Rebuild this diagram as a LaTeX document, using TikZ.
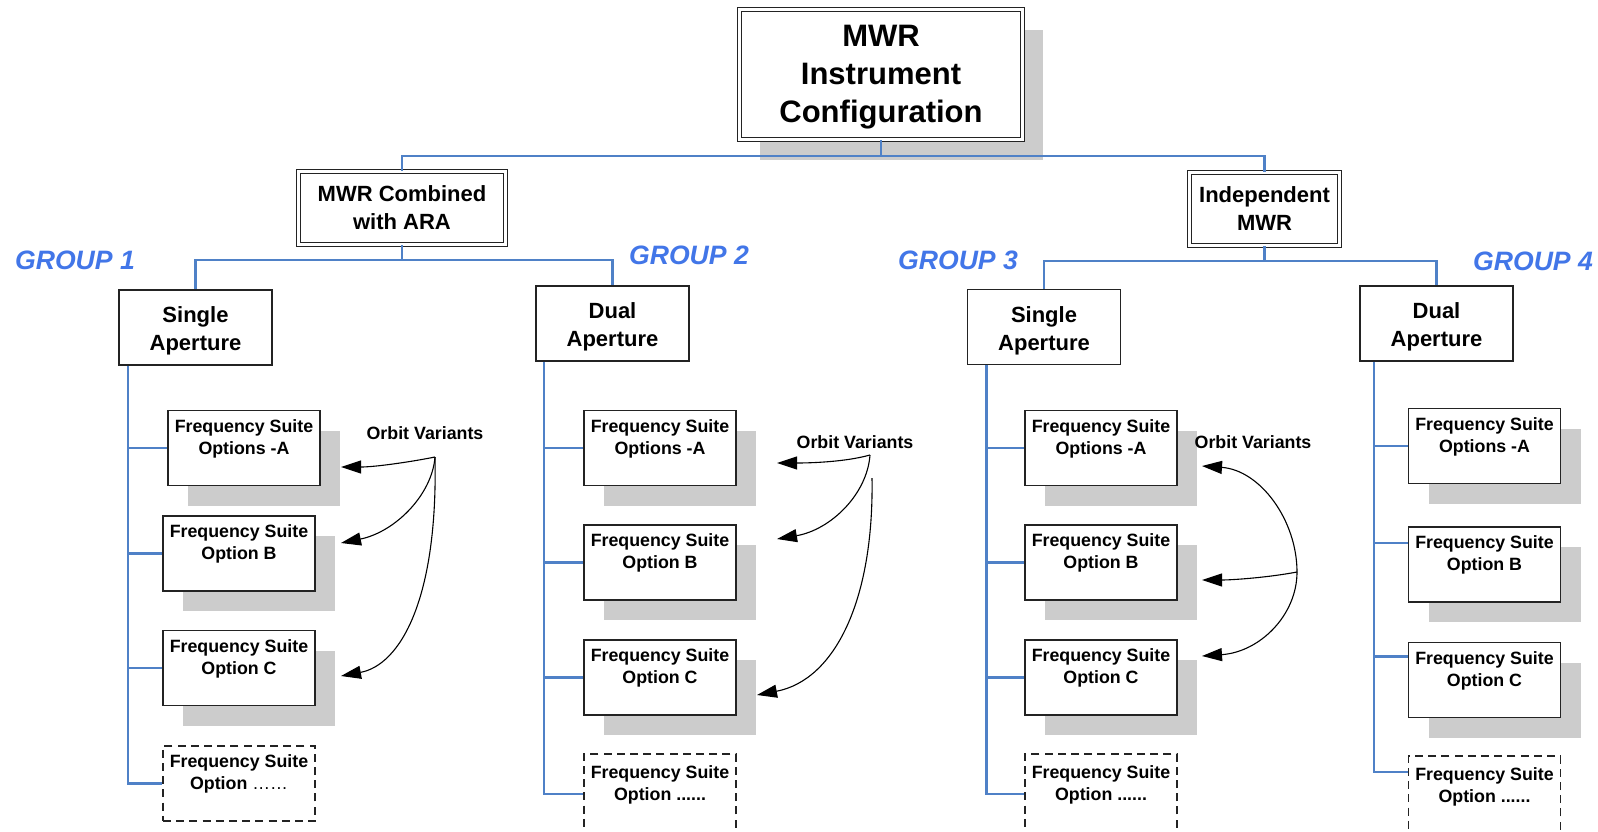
\documentclass[tikz,border=0pt]{standalone}
\usepackage{fontspec}
\setmainfont{Liberation Sans}
\usetikzlibrary{arrows.meta,calc,shadows}
\definecolor{linkblue}{RGB}{79,129,199}
\definecolor{groupblue}{RGB}{66,118,232}
\definecolor{shadowgray}{RGB}{204,204,204}
\definecolor{boxline}{RGB}{35,35,35}
% invisible rule that lowers the text block inside a box
\newcommand{\padtop}[1]{\rule{0pt}{#1}}
\newcommand{\fpad}{\padtop{9.5pt}}
\begin{document}
\begin{tikzpicture}[x=0.5pt,y=-0.5pt,
  link/.style={draw=linkblue, line width=1.3pt},
  boxshadow/.style={drop shadow={shadow xshift=10pt, shadow yshift=-10pt, fill=shadowgray, opacity=1}},
  rootbox/.style={draw=boxline, line width=0.8pt, double=white, double distance=1.2pt,
    fill=white, align=center, inner sep=0pt, minimum width=141.5pt, minimum height=65pt,
    font=\fontsize{15.5}{19}\selectfont\bfseries},
  midbox/.style={draw=boxline, line width=0.8pt, double=white, double distance=1.2pt,
    fill=white, align=center, inner sep=0pt, minimum height=36.5pt,
    font=\fontsize{11}{14}\selectfont\bfseries},
  apbox/.style={draw=boxline, line width=0.9pt, fill=white, align=center, inner sep=0pt,
    minimum width=76.5pt, minimum height=37.5pt, font=\fontsize{11}{14}\selectfont\bfseries},
  freqbox/.style={draw=boxline, line width=0.9pt, fill=white, align=center, inner sep=0pt,
    minimum width=76pt, minimum height=37.5pt, font=\fontsize{8.9}{11}\selectfont\bfseries},
  optbox/.style={freqbox, boxshadow},
  morebox/.style={freqbox, dash pattern=on 4pt off 2.6pt},
  groupname/.style={text=groupblue, font=\fontsize{13.3}{16}\selectfont\bfseries\itshape},
  orbit/.style={font=\fontsize{8.9}{11}\selectfont\bfseries},
  variant/.style={draw=black, line width=0.55pt, -{Triangle[length=10pt,width=6.5pt]}},
]
\fill[white] (0,0) rectangle (1598,831);
\useasboundingbox (0,0) rectangle (1598,831);

% top of the hierarchy
\node[rootbox, boxshadow] (root) at (881,74.5) {\padtop{13.1pt}MWR\\Instrument\\Configuration};
\node[midbox, minimum width=103.5pt] (comb) at (402,208) {MWR Combined\\with ARA};
\node[midbox, minimum width=75pt] (indep) at (1264.5,209) {Independent\\MWR};

% aperture level
\node[apbox] (g1top) at (195.5,327.5) {\padtop{11.5pt}Single\\Aperture};
\node[apbox] (g2top) at (612.5,323.5) {\padtop{11.5pt}Dual\\Aperture};
\node[apbox] (g3top) at (1044,327) {\padtop{11.5pt}Single\\Aperture};
\node[apbox] (g4top) at (1436.5,323.5) {\padtop{11.5pt}Dual\\Aperture};

% group captions
\node[groupname] (grp1) at (75,260) {GROUP 1};
\node[groupname] (grp2) at (689,255) {GROUP 2};
\node[groupname] (grp3) at (958,260) {GROUP 3};
\node[groupname] (grp4) at (1533,261) {GROUP 4};

% group 1 options
\node[optbox] (g1a) at (244,448) {\fpad Frequency Suite\\Options -A\\\strut};
\node[optbox] (g1b) at (239,553.5) {\fpad Frequency Suite\\Option B\\\strut};
\node[optbox] (g1c) at (239,668) {\fpad Frequency Suite\\Option C\\\strut};
\node[morebox] (g1d) at (239,783.5) {\fpad Frequency Suite\\Option {\mdseries ……}\\\strut};

% group 2 options
\node[optbox] (g2a) at (660,448) {\fpad Frequency Suite\\Options -A\\\strut};
\node[optbox] (g2b) at (660,562.5) {\fpad Frequency Suite\\Option B\\\strut};
\node[optbox] (g2c) at (660,677.5) {\fpad Frequency Suite\\Option C\\\strut};
\node[morebox, minimum height=40pt] (g2d) at (660,794) {\fpad Frequency Suite\\Option ......\\\strut};

% group 3 options
\node[optbox] (g3a) at (1101,448) {\fpad Frequency Suite\\Options -A\\\strut};
\node[optbox] (g3b) at (1101,562.5) {\fpad Frequency Suite\\Option B\\\strut};
\node[optbox] (g3c) at (1101,677.5) {\fpad Frequency Suite\\Option C\\\strut};
\node[morebox, minimum height=40pt] (g3d) at (1101,794) {\fpad Frequency Suite\\Option ......\\\strut};

% group 4 options
\node[optbox] (g4a) at (1484.5,446) {\fpad Frequency Suite\\Options -A\\\strut};
\node[optbox] (g4b) at (1484.5,564.5) {\fpad Frequency Suite\\Option B\\\strut};
\node[optbox] (g4c) at (1484.5,680) {\fpad Frequency Suite\\Option C\\\strut};
\node[morebox, minimum height=40pt] (g4d) at (1484.5,796) {\fpad Frequency Suite\\Option ......\\\strut};

% tree connectors
\coordinate (bus0) at (881,156);
\coordinate (bus1) at (402,260);
\coordinate (bus2) at (1264.5,261);
\draw[link] (root.south) -- (bus0) -| (comb.north);
\draw[link] (bus0) -| (indep.north);
\draw[link] (comb.south) -- (bus1);
\draw[link] (g1top.north) |- (bus1) -| (g2top.north);
\draw[link] (indep.south) -- (bus2);
\draw[link] (g3top.north) |- (bus2) -| (g4top.north);

% trunks and branches
\coordinate (t1) at ($(g1top.south west)+(10,0)$);
\coordinate (t2) at ($(g2top.south west)+(9,0)$);
\coordinate (t3) at ($(g3top.south west)+(20,0)$);
\coordinate (t4) at ($(g4top.south west)+(15,0)$);
\foreach \g in {1,2,3}{
  \draw[link] (t\g) |- (g\g d.west);
  \draw[link] (t\g |- g\g a.west) -- (g\g a.west);
  \draw[link] (t\g |- g\g b.west) -- (g\g b.west);
  \draw[link] (t\g |- g\g c.west) -- (g\g c.west);
}
\coordinate (g4bpin) at ($(g4b.north west)+(0,17)$);
\coordinate (g4cpin) at ($(g4c.north west)+(0,15)$);
\coordinate (g4dpin) at ($(g4d.north west)+(0,17)$);
\draw[link] (t4) |- (g4dpin);
\draw[link] (t4 |- g4a.west) -- (g4a.west);
\draw[link] (t4 |- g4bpin) -- (g4bpin);
\draw[link] (t4 |- g4cpin) -- (g4cpin);

% orbit variants, group 1
\node[orbit] (ov1) at (425,433) {Orbit Variants};
\coordinate (s1) at (435,457);
\coordinate (v1a) at (341,467);
\coordinate (v1b) at (341,543);
\coordinate (v1c) at (341,676);
\draw[variant] (s1) .. controls (410,462) and (375,467) .. (v1a);
\draw[variant] (s1) .. controls (432,495) and (395,532) .. (v1b);
\draw[variant] (s1) .. controls (438,600) and (400,665) .. (v1c);

% orbit variants, group 2
\node[orbit] (ov2) at (855,442) {Orbit Variants};
\coordinate (s2) at (870,455);
\coordinate (s2c) at (872,478);
\coordinate (v2a) at (777,463);
\coordinate (v2b) at (777,539);
\coordinate (v2c) at (757,695);
\draw[variant] (s2) .. controls (845,462) and (810,463) .. (v2a);
\draw[variant] (s2) .. controls (867,495) and (830,530) .. (v2b);
\draw[variant] (s2c) .. controls (874,600) and (835,680) .. (v2c);

% orbit variants, group 3
\node[orbit] (ov3) at (1253,442) {Orbit Variants};
\coordinate (s3) at (1297,572);
\coordinate (v3a) at (1202,466);
\coordinate (v3b) at (1202,580);
\coordinate (v3c) at (1202,656);
\draw[variant] (s3) .. controls (1297,520) and (1260,470) .. (v3a);
\draw[variant] (s3) .. controls (1265,578) and (1230,580) .. (v3b);
\draw[variant] (s3) .. controls (1297,615) and (1260,652) .. (v3c);
\end{tikzpicture}
\end{document}
